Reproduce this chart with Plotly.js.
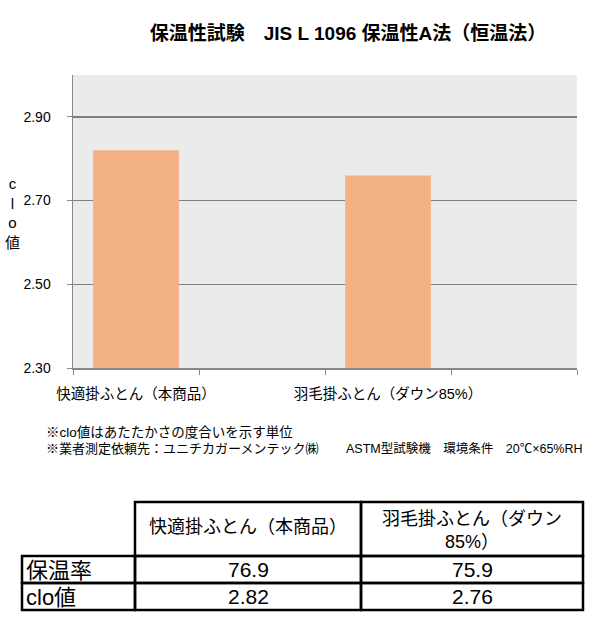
<!DOCTYPE html>
<html>
<head>
<meta charset="utf-8">
<script src="https://cdn.plot.ly/plotly-3.0.1.min.js"></script>
<style>html,body{margin:0;padding:0;background:#fff;}#chart{width:600px;height:640px;}</style>
</head>
<body>
<div id="chart"></div>
<script>
// ---- data ----
const categories = ["快適掛ふとん（本商品）", "羽毛掛ふとん（ダウン85%）"];
const cloValues = [2.82, 2.76];
const warmthRates = [76.9, 75.9];
const rowLabels = ["保温率", "clo値"];
const tableHeaders = ["快適掛ふとん（本商品）", "羽毛掛ふとん（ダウン<br>85%）"];
const yTickVals = [2.30, 2.50, 2.70, 2.90];
const notes = ["※clo値はあたたかさの度合いを示す単位", "※業者測定依頼先：ユニチカガーメンテック㈱"];
const testNote = "ASTM型試験機　環境条件　20℃×65%RH";
const chartTitle = "保温性試験　JIS L 1096 保温性A法（恒温法）";

// ---- layout helpers ----
const FONT = "Liberation Sans, Arial, 'Noto Sans CJK JP', sans-serif";
const L = 73, R = 577, T = 75, B = 368;
const px = x => (x - L) / (R - L);
const py = y => (B - y) / (B - T);

// category slots: each real category followed by an empty slot
const slots = [];
categories.forEach((c, i) => { slots.push(c); slots.push(" ".repeat(i + 1)); });

const trace = {
  type: "bar",
  x: categories,
  y: cloValues,
  marker: {color: "#F4B183"},
  hoverinfo: "x+y"
};

const shapes = [];
const annotations = [];
const border = {color: "#000", width: 2.5};
function rect(x0, y0, x1, y1) {
  shapes.push({type: "rect", xref: "paper", yref: "paper",
    x0: px(x0), x1: px(x1), y0: py(y0), y1: py(y1), line: border, fillcolor: "rgba(0,0,0,0)"});
}
function text(t, x, y, size, anchor) {
  annotations.push({xref: "paper", yref: "paper", x: px(x), y: py(y), text: t, showarrow: false,
    xanchor: anchor || "center", yanchor: "middle", font: {family: FONT, size: size, color: "#000"}});
}

// y-axis title (stacked characters)
text("c<br>l<br>o<br>値", 12, 213, 15);

// notes
text(notes[0], 44, 432, 13.5, "left");
text(notes[1], 44, 448, 13, "left");
text(testNote, 344, 448, 12.5, "left");

// table
const colX = [22, 135, 361, 583];
const rowY = [502, 556, 583, 610];
for (let c = 0; c < tableHeaders.length; c++) {
  rect(colX[c + 1], rowY[0], colX[c + 2], rowY[1]);
  text(tableHeaders[c], (colX[c + 1] + colX[c + 2]) / 2, c === 1 ? 530 : 527, 18);
}
const rows = [warmthRates.map(v => v.toFixed(1)), cloValues.map(v => v.toFixed(2))];
rowLabels.forEach((lab, r) => {
  rect(colX[0], rowY[r + 1], colX[1], rowY[r + 2]);
  text(lab, colX[0] + 2, (rowY[r + 1] + rowY[r + 2]) / 2 + 1, 22, "left");
  rows[r].forEach((v, c) => {
    rect(colX[c + 1], rowY[r + 1], colX[c + 2], rowY[r + 2]);
    text(v, (colX[c + 1] + colX[c + 2]) / 2, (rowY[r + 1] + rowY[r + 2]) / 2, 21);
  });
});

const layout = {
  width: 600, height: 640,
  margin: {l: L, r: 600 - R, t: T, b: 640 - B, pad: 0},
  paper_bgcolor: "#fff",
  plot_bgcolor: "#EBEBEB",
  showlegend: false,
  bargap: 0.32,
  title: {text: chartTitle, x: 348 / 600, xanchor: "center", y: 1 - 33 / 640, yanchor: "middle",
    font: {family: FONT, size: 19, color: "#000", weight: "bold"}},
  xaxis: {
    type: "category", categoryorder: "array", categoryarray: slots,
    range: [-0.5, slots.length - 0.5], fixedrange: true,
    tickson: "boundaries", ticks: "outside", ticklen: 5, tickcolor: "#888", tickwidth: 1,
    showline: true, linecolor: "#888", linewidth: 1.5, showgrid: false, tickangle: 0,
    tickfont: {family: FONT, size: 14.5, color: "#000"}, ticklabelstandoff: 12
  },
  yaxis: {
    range: [2.3, 3.0], tickvals: yTickVals, tickformat: ".2f", fixedrange: true,
    ticks: "outside", ticklen: 5, tickcolor: "#888", tickwidth: 1,
    showline: true, linecolor: "#888", linewidth: 1.5,
    showgrid: true, gridcolor: "#7f7f7f", gridwidth: 1.4, zeroline: false,
    tickfont: {family: FONT, size: 14, color: "#000"}, ticklabelstandoff: 13
  },
  shapes: shapes,
  annotations: annotations
};

Plotly.newPlot("chart", [trace], layout, {displayModeBar: false, staticPlot: true});
</script>
</body>
</html>
